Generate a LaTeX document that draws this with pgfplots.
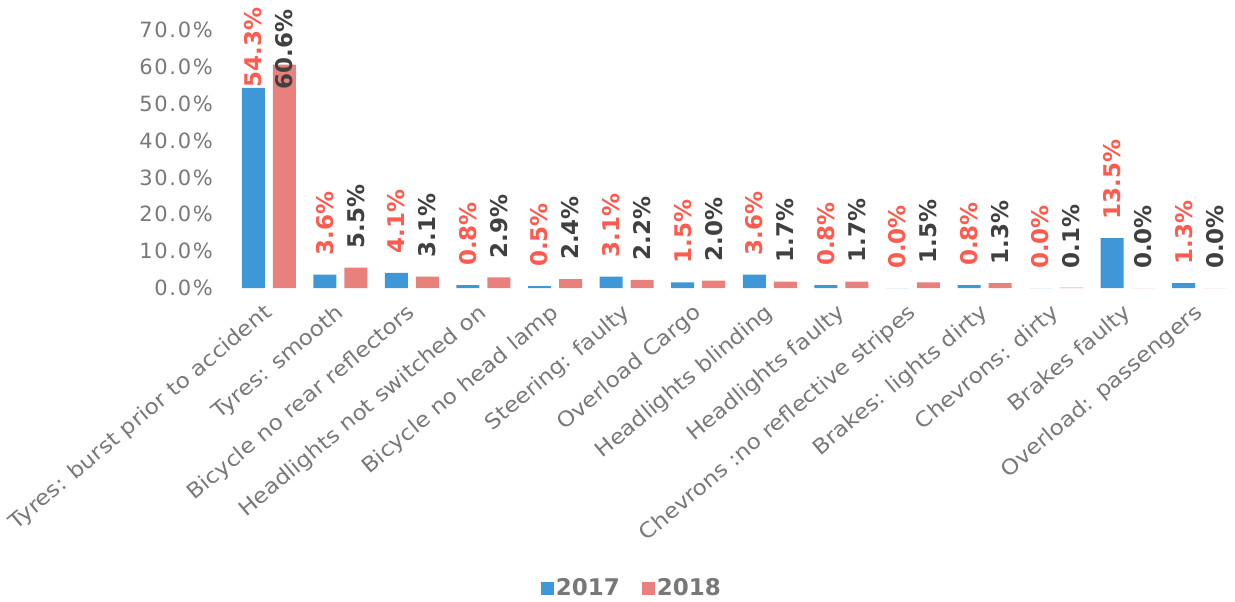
\documentclass[border=0pt]{standalone}
\usepackage{pgfplots}
\pgfplotsset{compat=1.18}
\usepackage{pgfplotstable}
\usepackage{fontspec}
\setmainfont{DejaVu Sans}
\newfontfamily\tickfont[LetterSpace=8]{DejaVu Sans}
\newfontfamily\labfont[FakeStretch=1.1]{DejaVu Sans}
\definecolor{cA}{RGB}{62,152,216}
\definecolor{cB}{RGB}{232,128,124}
\definecolor{labA}{RGB}{255,90,78}
\definecolor{labB}{RGB}{64,64,64}
\definecolor{tickgray}{RGB}{120,120,120}

\pgfplotstableread{
x y off
0 54.3 0
1 3.6 19
2 4.1 19
3 0.8 19
4 0.5 19
5 3.1 19
6 1.5 19
7 3.6 19
8 0.8 19
9 0.0 19
10 0.8 19
11 0.0 19
12 13.5 19
13 1.3 19
}\dataA

\pgfplotstableread{
x y off
0 60.6 -25
1 5.5 19
2 3.1 19
3 2.9 19
4 2.4 19
5 2.2 19
6 2.0 19
7 1.7 19
8 1.7 19
9 1.5 19
10 1.3 19
11 0.1 19
12 0.0 19
13 0.0 19
}\dataB

\begin{document}
\begin{tikzpicture}
\begin{axis}[
  scale only axis, width=1002pt, height=258pt,
  xmin=-0.5, xmax=13.5, ymin=0, ymax=70,
  ybar=8pt, bar width=23pt,
  axis line style={draw=none}, tick style={draw=none},
  xtick={0,...,13},
  xticklabels={Tyres: burst prior to accident, Tyres: smooth, Bicycle no rear reflectors, Headlights not switched on, Bicycle no head lamp, Steering: faulty, Overload Cargo, Headlights blinding, Headlights faulty, Chevrons :no reflective stripes, Brakes: lights dirty, Chevrons: dirty, Brakes faulty, Overload: passengers},
  xticklabel style={yshift=-10pt, xshift=-6pt, rotate=40, anchor=north east, inner sep=0pt, font=\labfont\fontsize{21}{21}\selectfont, text=tickgray},
  ytick={0,10,...,70},
  yticklabels={0.0\%,10.0\%,20.0\%,30.0\%,40.0\%,50.0\%,60.0\%,70.0\%},
  yticklabel style={xshift=-20pt, inner sep=0pt, font=\tickfont\fontsize{21}{21}\selectfont, text=tickgray},
  /pgf/number format/assume math mode=true,
  nodes near coords={\pgfmathprintnumber[fixed,fixed zerofill,precision=1]{\pgfplotspointmeta}\%},
  visualization depends on={\thisrow{off} \as \myoff},
  every node near coord/.append style={yshift=\myoff pt, rotate=90, anchor=west, inner sep=0pt, font=\bfseries\fontsize{23}{23}\selectfont},
  clip=false,
  legend style={at={(0.398,-1.163)}, anchor=center, draw=none, legend columns=2,
    font=\color{tickgray}\bfseries\fontsize{23}{23}\selectfont,
    /tikz/every even column/.append style={column sep=20pt}},
  legend image code/.code={\fill[#1] (0pt,-6.5pt) rectangle (13pt,6.5pt);},
]
\addplot[fill=cA, draw=none, every node near coord/.append style={text=labA}] table[x=x,y=y] {\dataA};
\addplot[fill=cB, draw=none, every node near coord/.append style={text=labB}] table[x=x,y=y] {\dataB};
\legend{2017,2018}
\end{axis}
\pgfresetboundingbox
\path[use as bounding box] (-233pt,-314pt) rectangle (1002pt,288pt);
\end{tikzpicture}
\end{document}
